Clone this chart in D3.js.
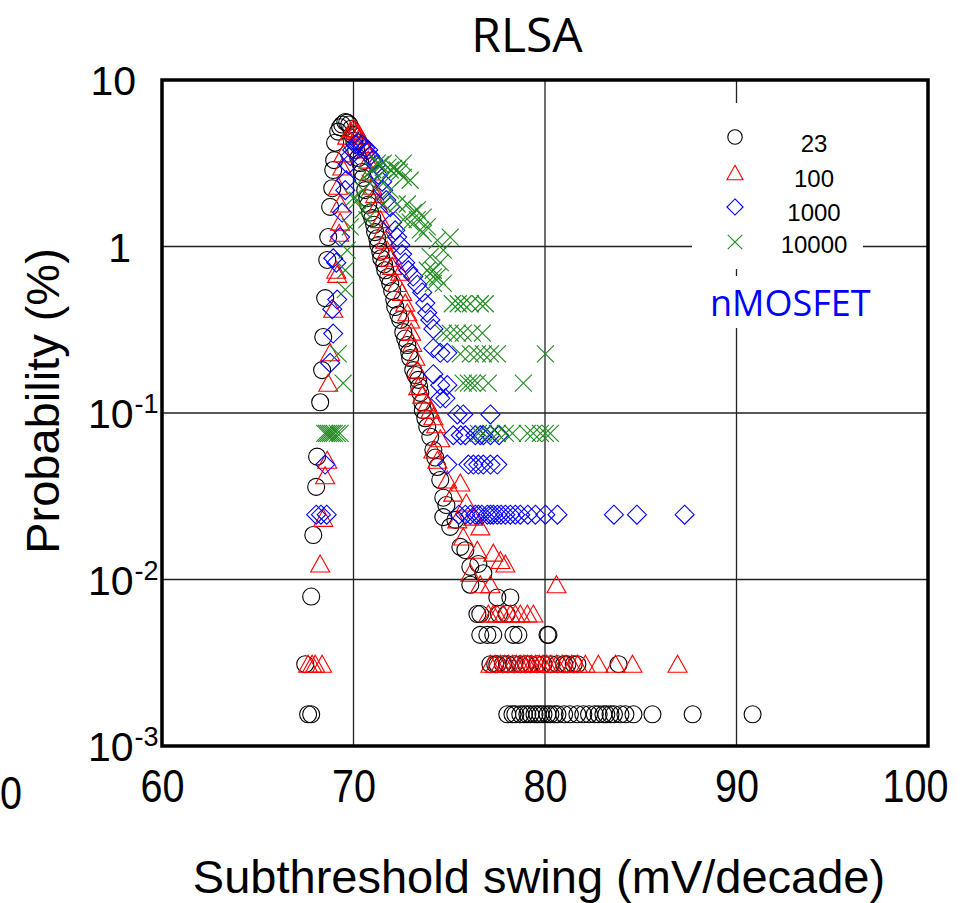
<!DOCTYPE html>
<html>
<head>
<meta charset="utf-8">
<script src="https://cdn.jsdelivr.net/npm/d3@7/dist/d3.min.js"></script>
<style>
  body { margin: 0; background: #fff; }
  svg { display: block; }
</style>
</head>
<body>
<svg id="chart" width="973" height="903"></svg>
<script>
// axis values
const xTicks = [60, 70, 80, 90, 100];
const yTicks = [10, 1, 0.1, 0.01, 0.001];
const yTickBase = ["10", "1", "10", "10", "10"];
const yTickExp = ["", "", "-1", "-2", "-3"];

const seriesNames = ["23", "100", "1000", "10000"];

// series "23" : [SS (mV/dec), probability (%)]
const s23 = [
  [67.63, 0.00155], [67.79, 0.00155], [67.48, 0.0031], [67.79, 0.0079], [67.9, 0.0185],
  [68.05, 0.036], [68.1, 0.0547], [68.26, 0.116], [68.36, 0.181], [68.42, 0.286],
  [68.52, 0.49], [68.63, 0.83], [68.68, 1.14], [68.78, 1.73], [68.89, 2.24],
  [68.94, 2.88], [68.99, 3.3], [69.04, 4.2], [69.2, 4.9], [69.3, 5.2], [69.41, 5.4],
  [69.57, 5.6], [69.67, 5.55], [69.78, 5.4], [69.88, 5.1],
  [69.93, 4.7], [70.04, 4.3], [70.14, 3.8], [70.25, 3.4], [70.35, 3.17], [70.45, 2.8],
  [70.5, 2.58], [70.61, 2.18], [70.72, 1.95], [70.77, 1.78], [70.87, 1.6], [70.98, 1.48],
  [71.08, 1.35], [71.13, 1.22], [71.24, 1.12], [71.29, 1.02], [71.4, 0.93], [71.45, 0.85],
  [71.6, 0.78], [71.66, 0.72], [71.81, 0.656], [71.92, 0.6], [72.02, 0.54], [72.13, 0.48],
  [72.18, 0.433], [72.34, 0.39], [72.44, 0.362], [72.6, 0.306], [72.7, 0.28], [72.81, 0.256],
  [72.91, 0.232], [72.96, 0.214], [73.12, 0.181], [73.23, 0.169], [73.38, 0.158],
  [73.43, 0.144], [73.49, 0.132], [73.59, 0.116], [73.62, 0.104], [73.75, 0.093],
  [73.85, 0.0826], [74.01, 0.072], [74.17, 0.06], [74.27, 0.054], [74.38, 0.0474],
  [74.53, 0.0396], [74.69, 0.031], [74.69, 0.0237], [74.85, 0.028], [75.05, 0.0207],
  [75.32, 0.0228], [75.58, 0.0157], [75.84, 0.015], [76.1, 0.0119], [76.1, 0.0093],
  [76.78, 0.0109], [76.52, 0.0124], [76.47, 0.0062], [76.62, 0.0062], [77.51, 0.0078],
  [78.19, 0.0078], [77.6, 0.0062], [78.0, 0.0062],
  [76.62, 0.00465], [76.99, 0.00465], [77.3, 0.00465], [78.35, 0.00465], [78.61, 0.00465],
  [80.13, 0.00465], [80.18, 0.00465],
  [77.15, 0.0031], [77.4, 0.0031], [77.51, 0.0031], [77.8, 0.0031], [78.03, 0.0031],
  [78.4, 0.0031], [78.71, 0.0031], [79.0, 0.0031], [79.24, 0.0031], [79.6, 0.0031],
  [79.92, 0.0031], [80.3, 0.0031], [80.65, 0.0031], [81.0, 0.0031], [81.17, 0.0031],
  [81.5, 0.0031], [81.69, 0.0031], [83.84, 0.0031],
  [78.03, 0.00155], [78.3, 0.00155], [78.45, 0.00155], [78.71, 0.00155], [78.9, 0.00155],
  [79.08, 0.00155], [79.24, 0.00155], [79.45, 0.00155], [79.6, 0.00155], [79.76, 0.00155],
  [79.92, 0.00155], [80.13, 0.00155], [80.28, 0.00155], [80.5, 0.00155], [80.65, 0.00155],
  [81.0, 0.00155], [81.3, 0.00155], [81.69, 0.00155], [82.0, 0.00155], [82.3, 0.00155],
  [82.6, 0.00155], [82.8, 0.00155], [83.05, 0.00155], [83.2, 0.00155], [83.42, 0.00155],
  [83.6, 0.00155], [83.94, 0.00155], [84.2, 0.00155], [84.62, 0.00155], [85.61, 0.00155],
  [87.71, 0.00155], [90.84, 0.00155]
];

// series "100"
const s100 = [
  [67.63, 0.0031], [67.84, 0.0031], [68.0, 0.0031], [68.36, 0.0031],
  [68.26, 0.0124], [68.42, 0.0233], [68.52, 0.042], [68.63, 0.052], [68.68, 0.151],
  [68.78, 0.23], [68.94, 0.42], [69.1, 0.72], [69.15, 0.68], [69.25, 1.2], [69.3, 1.4],
  [69.3, 1.8], [69.2, 2.3], [69.41, 3.0], [69.46, 3.6], [69.67, 4.6], [69.83, 4.9],
  [69.99, 5.1], [70.09, 5.0], [70.25, 4.8], [70.35, 4.6], [70.45, 4.3], [70.56, 4.1],
  [70.66, 3.8], [70.77, 3.3], [70.87, 2.8], [70.98, 2.3], [71.13, 2.05], [71.29, 1.8],
  [71.4, 1.45], [71.55, 1.26], [71.66, 1.09], [71.76, 0.95], [71.92, 0.85], [72.02, 0.76],
  [72.44, 0.7], [72.28, 0.6], [72.54, 0.53], [72.7, 0.457], [72.81, 0.4], [72.96, 0.362],
  [73.01, 0.306], [73.07, 0.262], [73.23, 0.216], [73.33, 0.181], [73.38, 0.144],
  [73.59, 0.128], [73.85, 0.115], [74.01, 0.104], [74.17, 0.095], [74.32, 0.085],
  [74.53, 0.07], [74.17, 0.06], [74.38, 0.052], [74.9, 0.0396], [75.58, 0.038],
  [75.21, 0.033], [75.89, 0.0288], [75.42, 0.0228], [76.26, 0.0237], [76.62, 0.0207],
  [75.73, 0.018], [76.47, 0.015], [77.3, 0.0144], [77.67, 0.013], [77.93, 0.0124],
  [76.1, 0.0109], [76.62, 0.0093], [77.15, 0.0093], [80.6, 0.0093],
  [77.04, 0.0062], [77.3, 0.0062], [77.51, 0.0062], [77.83, 0.0062], [78.19, 0.0062],
  [78.45, 0.0062], [78.71, 0.0062], [79.08, 0.0062], [79.39, 0.0062],
  [77.15, 0.0031], [77.4, 0.0031], [77.67, 0.0031], [77.9, 0.0031], [78.1, 0.0031],
  [78.3, 0.0031], [78.5, 0.0031], [78.7, 0.0031], [78.9, 0.0031], [79.1, 0.0031],
  [79.3, 0.0031], [79.5, 0.0031], [79.7, 0.0031], [79.9, 0.0031], [80.1, 0.0031],
  [80.3, 0.0031], [80.6, 0.0031], [80.9, 0.0031], [81.1, 0.0031], [81.4, 0.0031],
  [81.7, 0.0031], [82.11, 0.0031], [82.79, 0.0031], [83.68, 0.0031], [84.57, 0.0031],
  [86.92, 0.0031]
];

// series "1000"
const s1000 = [
  [68.05, 0.0245], [68.3, 0.0245], [68.6, 0.0245], [68.52, 0.049],
  [68.78, 0.2], [68.94, 0.3], [68.89, 0.42], [69.15, 0.48], [68.94, 0.85], [69.1, 0.8],
  [69.3, 1.14], [69.41, 1.6], [69.57, 2.18], [69.62, 2.5], [69.72, 3.1], [69.83, 3.5],
  [69.93, 3.8], [70.09, 4.1], [70.25, 4.2], [70.45, 4.1], [70.61, 3.9], [70.77, 3.8],
  [70.87, 3.5], [71.03, 3.3], [71.19, 3.1], [71.29, 2.7], [71.5, 2.45], [71.55, 2.18],
  [71.71, 1.9], [71.92, 1.73], [72.02, 1.4], [72.18, 1.25], [72.28, 1.14], [72.44, 1.02],
  [72.54, 0.9], [72.7, 0.8], [72.86, 0.72], [73.12, 0.66], [73.33, 0.59], [73.59, 0.53],
  [73.75, 0.457], [73.85, 0.4], [74.01, 0.362], [74.17, 0.32], [74.17, 0.245],
  [74.53, 0.23], [74.9, 0.23], [74.17, 0.171], [74.53, 0.147], [74.9, 0.147],
  [74.53, 0.1225], [74.8, 0.1225],
  [75.42, 0.098], [75.73, 0.098], [77.15, 0.098],
  [75.21, 0.0735], [75.6, 0.0735], [75.84, 0.0735], [76.36, 0.0735], [76.62, 0.0735],
  [76.78, 0.0735], [77.15, 0.0735], [77.6, 0.0735],
  [74.9, 0.049], [76.0, 0.049], [76.26, 0.049], [76.52, 0.049], [76.78, 0.049],
  [77.15, 0.049], [77.51, 0.049],
  [75.5, 0.0245], [75.84, 0.0245], [76.1, 0.0245], [76.36, 0.0245], [76.52, 0.0245],
  [76.7, 0.0245], [76.99, 0.0245], [77.15, 0.0245], [77.3, 0.0245], [77.51, 0.0245],
  [77.7, 0.0245], [77.93, 0.0245], [78.19, 0.0245], [78.45, 0.0245], [78.71, 0.0245],
  [79.1, 0.0245], [79.5, 0.0245], [80.02, 0.0245], [80.65, 0.0245], [83.6, 0.0245],
  [84.8, 0.0245], [87.29, 0.0245]
];

// series "10000"
const s10000 = [
  [68.5, 0.0755], [68.6, 0.0755], [68.7, 0.0755], [68.8, 0.0755], [68.9, 0.0755],
  [69.0, 0.0755], [69.15, 0.0755], [69.3, 0.0755], [69.46, 0.151], [69.2, 0.2265],
  [69.57, 0.55], [69.57, 0.72], [69.67, 0.95], [69.83, 1.31], [69.99, 1.95], [70.2, 1.9],
  [70.5, 2.18], [70.87, 2.4], [70.5, 1.66], [70.7, 1.45], [70.7, 2.7], [71.0, 2.9],
  [71.24, 3.17], [71.4, 3.1], [71.55, 3.17], [71.55, 2.4], [71.55, 1.8], [71.8, 3.0],
  [71.92, 2.88], [71.92, 2.18], [72.1, 2.95], [72.28, 2.88], [72.4, 2.8], [72.6, 3.17],
  [72.6, 2.6], [72.96, 2.5], [72.28, 1.8], [72.6, 1.45], [72.81, 1.8],
  [72.96, 1.4], [73.12, 1.6], [73.33, 1.66], [73.33, 1.45], [73.49, 1.26], [73.64, 1.5],
  [73.64, 1.2], [73.85, 1.31], [74.38, 1.09], [75.05, 1.14], [74.69, 0.95],
  [74.0, 0.87], [74.53, 0.8], [74.17, 0.72], [73.85, 0.72], [74.38, 0.656], [74.69, 0.6],
  [74.17, 0.6], [74.17, 0.656],
  [75.16, 0.453], [75.47, 0.453], [75.73, 0.453], [76.1, 0.453], [76.62, 0.453],
  [76.88, 0.453],
  [74.69, 0.302], [75.05, 0.302], [75.42, 0.302], [75.73, 0.302], [76.2, 0.302],
  [76.73, 0.302],
  [75.58, 0.2265], [76.1, 0.2265], [76.47, 0.2265], [76.78, 0.2265], [77.15, 0.2265],
  [77.51, 0.2265], [80.02, 0.2265],
  [75.73, 0.151], [76.0, 0.151], [76.2, 0.151], [76.47, 0.151], [77.04, 0.151],
  [78.87, 0.151],
  [76.52, 0.0755], [76.78, 0.0755], [77.15, 0.0755], [77.51, 0.0755], [77.93, 0.0755],
  [78.3, 0.0755], [79.08, 0.0755], [79.39, 0.0755], [79.76, 0.0755], [80.02, 0.0755],
  [80.28, 0.0755]
];

const svg = d3.select("#chart");

const margin = { left: 162, right: 45, top: 80, bottom: 157 };
const W = 973, H = 903;

const x = d3.scaleLinear().domain([60, 100]).range([margin.left, W - margin.right]);
const y = d3.scaleLog().domain([0.001, 10]).range([H - margin.bottom, margin.top]);

const sans = "'Liberation Sans', Arial, sans-serif";

// title
svg.append("text")
  .attr("x", 527).attr("y", 52)
  .attr("text-anchor", "middle")
  .attr("font-family", "'Open Sans', 'Noto Sans', sans-serif")
  .attr("font-size", 48)
  .text("RLSA");

// grid
const grid = svg.append("g").attr("stroke", "#222").attr("stroke-width", 1.3);
grid.selectAll("line.vx")
  .data(xTicks.slice(1, -1))
  .join("line")
  .attr("x1", d => x(d)).attr("x2", d => x(d))
  .attr("y1", y(10)).attr("y2", y(0.001));
grid.selectAll("line.hy")
  .data(yTicks.slice(1, -1))
  .join("line")
  .attr("x1", x(60)).attr("x2", x(100))
  .attr("y1", d => y(d)).attr("y2", d => y(d));

// white boxes behind legend and label
svg.append("rect").attr("x", 692).attr("y", 103).attr("width", 171).attr("height", 166).attr("fill", "#fff");
svg.append("rect").attr("x", 700).attr("y", 276).attr("width", 180).attr("height", 52).attr("fill", "#fff");

// markers
const markers = [
  { data: s23, color: "#000", shape: "circle" },
  { data: s100, color: "#ff0000", shape: "triangle" },
  { data: s1000, color: "#0000ff", shape: "diamond" },
  { data: s10000, color: "#1f8a1f", shape: "cross" }
];

function shapePath(shape, s) {
  if (shape === "triangle") return `M0,${-9 * s}L${9.5 * s},${8 * s}L${-9.5 * s},${8 * s}Z`;
  if (shape === "diamond") return `M0,${-9.5 * s}L${9.5 * s},0L0,${9.5 * s}L${-9.5 * s},0Z`;
  if (shape === "cross") return `M${-8.5 * s},${-8.5 * s}L${8.5 * s},${8.5 * s}M${8.5 * s},${-8.5 * s}L${-8.5 * s},${8.5 * s}`;
  return null;
}

function drawMarker(g, shape, color, s) {
  if (shape === "circle") {
    g.append("circle").attr("r", 8.5 * s)
      .attr("fill", "none").attr("stroke", color).attr("stroke-width", 1.1);
  } else {
    g.append("path").attr("d", shapePath(shape, s))
      .attr("fill", "none").attr("stroke", color).attr("stroke-width", 1.1);
  }
}

markers.forEach(m => {
  const g = svg.append("g");
  g.selectAll("g")
    .data(m.data)
    .join("g")
    .attr("transform", d => `translate(${x(d[0])},${y(d[1])})`)
    .each(function () { drawMarker(d3.select(this), m.shape, m.color, 1); });
});

// frame
svg.append("rect")
  .attr("x", x(60)).attr("y", y(10))
  .attr("width", x(100) - x(60)).attr("height", y(0.001) - y(10))
  .attr("fill", "none").attr("stroke", "#000").attr("stroke-width", 3.5);

// x tick labels (a bit narrow and tall, as in the original)
const xAxis = d3.axisBottom(x).tickValues(xTicks).tickSize(0).tickPadding(0).tickFormat(d3.format("d"));
const gx = svg.append("g").attr("transform", `translate(0,${y(0.001)})`).call(xAxis);
gx.select(".domain").remove();
gx.selectAll("text")
  .attr("font-family", sans).attr("font-size", 46).attr("fill", "#000")
  .attr("dy", 0).attr("y", 56)
  .attr("x", d => d === 100 ? -15 : 0)
  .attr("transform", "scale(0.86,1)");

// stray label at far left
svg.append("text")
  .attr("x", 0).attr("y", 809).attr("text-anchor", "start")
  .attr("font-family", sans).attr("font-size", 46)
  .attr("transform", "scale(0.86,1)")
  .text("0");

// y tick labels
const yl = svg.append("g").attr("font-family", sans).attr("fill", "#000");
yTicks.forEach((v, i) => {
  const t = yl.append("text")
    .attr("y", y(v) + 15)
    .attr("font-size", 41);
  if (yTickExp[i] === "") {
    t.attr("x", i === 0 ? 136 : 131).attr("text-anchor", "end").text(yTickBase[i]);
  } else {
    t.attr("x", 88).attr("text-anchor", "start");
    t.append("tspan").text(yTickBase[i]);
    t.append("tspan").attr("font-size", 27).attr("dy", -15).attr("dx", 1).text(yTickExp[i]);
  }
});

// axis titles
svg.append("text")
  .attr("transform", `translate(59,401) rotate(-90)`)
  .attr("text-anchor", "middle")
  .attr("font-family", sans).attr("font-size", 47)
  .text("Probability (%)");

svg.append("text")
  .attr("x", 539).attr("y", 893)
  .attr("text-anchor", "middle")
  .attr("font-family", sans).attr("font-size", 47)
  .text("Subthreshold swing (mV/decade)");

// legend
const legendY = [137, 173, 207, 242];
const legendTextY = [152, 187, 221, 253];
const lg = svg.append("g");
markers.forEach((m, i) => {
  const g = lg.append("g").attr("transform", `translate(735,${legendY[i]})`);
  drawMarker(g, m.shape, m.color, 0.85);
  lg.append("text")
    .attr("x", 814).attr("y", legendTextY[i])
    .attr("text-anchor", "middle")
    .attr("font-family", sans).attr("font-size", 24)
    .text(seriesNames[i]);
});

svg.append("text")
  .attr("x", 710).attr("y", 316)
  .attr("font-family", "'Open Sans', 'Noto Sans', sans-serif")
  .attr("font-size", 36).attr("fill", "#0000ff")
  .text("nMOSFET");
</script>
</body>
</html>
